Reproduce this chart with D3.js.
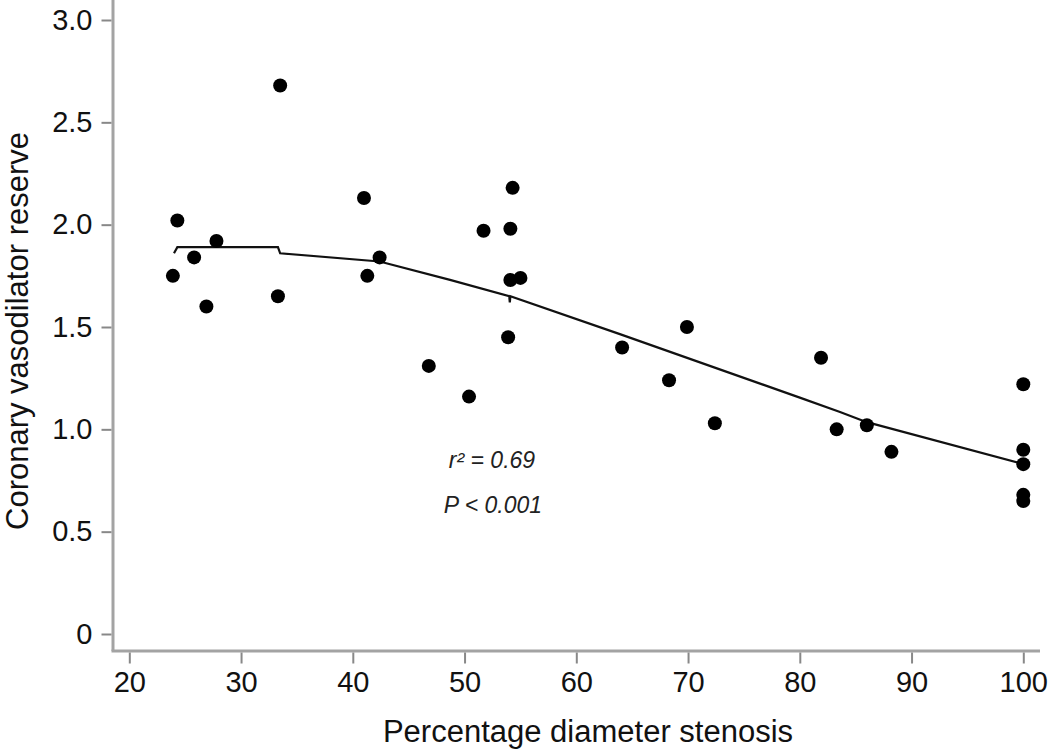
<!DOCTYPE html>
<html>
<head>
<meta charset="utf-8">
<script src="https://cdn.jsdelivr.net/npm/d3@7"></script>
<style>
  html, body { margin: 0; padding: 0; background: #fff; }
  svg { display: block; font-family: "Liberation Sans", Arial, sans-serif; }
</style>
</head>
<body>
<svg id="chart" width="1050" height="750"></svg>
<script>
// ---- data ----
const stenosis = [23.9, 24.3, 25.8, 26.9, 27.8, 33.5, 33.3, 41.0, 41.3, 42.4,
                  46.8, 50.4, 51.7, 53.9, 54.1, 54.1, 54.3, 55.0, 64.1, 68.3,
                  69.9, 72.4, 81.9, 83.3, 86.0, 88.2, 100, 100, 100, 100, 100];
const reserve  = [1.75, 2.02, 1.84, 1.60, 1.92, 2.68, 1.65, 2.13, 1.75, 1.84,
                  1.31, 1.16, 1.97, 1.45, 1.98, 1.73, 2.18, 1.74, 1.40, 1.24,
                  1.50, 1.03, 1.35, 1.00, 1.02, 0.89, 1.22, 0.90, 0.83, 0.68, 0.65];
const fitX = [24.0, 24.3, 33.3, 33.5, 42.4, 48.7, 54.0, 54.05, 54.1, 63.9, 80.0, 83.6, 86.0, 100];
const fitY = [1.86, 1.89, 1.89, 1.86, 1.82, 1.73, 1.65, 1.62, 1.65, 1.465, 1.155, 1.085, 1.035, 0.83];
const xTicks = [20, 30, 40, 50, 60, 70, 80, 90, 100];
const yTicks = [0, 0.5, 1.0, 1.5, 2.0, 2.5, 3.0];
const yTickLabels = ["0", "0.5", "1.0", "1.5", "2.0", "2.5", "3.0"];
const xTitle = "Percentage diameter stenosis";
const yTitle = "Coronary vasodilator reserve";
const statLines = ["r² = 0.69", "P < 0.001"];

// ---- layout ----
const svg = d3.select("#chart");
const x = d3.scaleLinear().domain([20, 100]).range([129.3, 1023.3]);
const y = d3.scaleLinear().domain([0, 3]).range([634, 20]);
const axisX0 = 113, axisX1 = 1040, axisYTop = 0, axisYBottom = 651;

// axes lines
svg.append("line").attr("x1", axisX0).attr("x2", axisX0)
  .attr("y1", axisYTop).attr("y2", axisYBottom)
  .attr("stroke", "#a3a3a3").attr("stroke-width", 3);
svg.append("line").attr("x1", axisX0 - 1.5).attr("x2", axisX1)
  .attr("y1", axisYBottom).attr("y2", axisYBottom)
  .attr("stroke", "#a3a3a3").attr("stroke-width", 3);

// y axis
const yAxis = d3.axisLeft(y).tickValues(yTicks)
  .tickFormat((d, i) => yTickLabels[i]).tickSize(10).tickPadding(9);
const gy = svg.append("g").attr("transform", `translate(${axisX0 - 1.5},0)`).call(yAxis);
gy.select(".domain").remove();
gy.selectAll(".tick line").attr("stroke", "#888").attr("stroke-width", 2);
gy.selectAll(".tick text").attr("font-size", 29).attr("fill", "#111")
  .attr("font-family", "Liberation Sans, Arial, sans-serif");

// x axis
const xAxis = d3.axisBottom(x).tickValues(xTicks).tickFormat(d3.format("d"))
  .tickSize(11).tickPadding(8);
const gx = svg.append("g").attr("transform", `translate(0,${axisYBottom + 1.5})`).call(xAxis);
gx.select(".domain").remove();
gx.selectAll(".tick line").attr("stroke", "#888").attr("stroke-width", 2);
gx.selectAll(".tick text").attr("font-size", 29).attr("fill", "#111")
  .attr("font-family", "Liberation Sans, Arial, sans-serif");

// axis titles
svg.append("text").attr("x", 588).attr("y", 742)
  .attr("text-anchor", "middle").attr("font-size", 31).attr("fill", "#111")
  .text(xTitle);
svg.append("text").attr("transform", "translate(28,331) rotate(-90)")
  .attr("text-anchor", "middle").attr("font-size", 31).attr("fill", "#111")
  .text(yTitle);

// fit line
const fitData = fitX.map((v, i) => [v, fitY[i]]);
svg.append("path").datum(fitData)
  .attr("d", d3.line().x(d => x(d[0])).y(d => y(d[1])))
  .attr("fill", "none").attr("stroke", "#111").attr("stroke-width", 2.2);

// points
const pts = stenosis.map((v, i) => ({ x: v, y: reserve[i] }));
svg.append("g").selectAll("circle").data(pts).join("circle")
  .attr("cx", d => x(d.x)).attr("cy", d => y(d.y)).attr("r", 7)
  .attr("fill", "#000");

// statistics annotation
svg.append("text").attr("x", 492).attr("y", 468).attr("text-anchor", "middle")
  .attr("font-size", 23).attr("font-style", "italic").attr("fill", "#222")
  .text(statLines[0]);
svg.append("text").attr("x", 493).attr("y", 513).attr("text-anchor", "middle")
  .attr("font-size", 23).attr("font-style", "italic").attr("fill", "#222")
  .text(statLines[1]);
</script>
</body>
</html>
